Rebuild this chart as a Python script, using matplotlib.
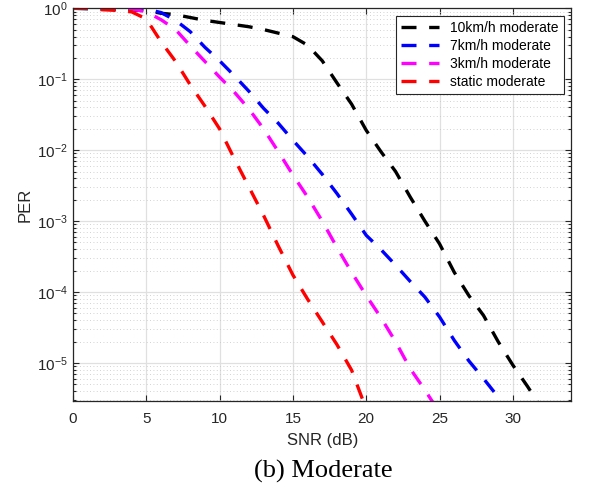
import numpy as np
import matplotlib.pyplot as plt
from matplotlib.ticker import LogLocator, NullFormatter

# values (log10 of PER)
snr_10kmh = [0, 5, 6, 7, 8, 9, 10, 11, 12, 13, 14, 15, 16, 17, 18, 19, 20, 21, 22, 23, 24, 25,
             26, 27, 28, 29, 30, 31, 32]
logper_10kmh = [0, -0.03, -0.07, -0.09, -0.13, -0.17, -0.2, -0.23, -0.26, -0.3, -0.35, -0.4,
                -0.52, -0.74, -1.05, -1.35, -1.72, -2.02, -2.3, -2.66, -3.0, -3.32, -3.72,
                -4.05, -4.33, -4.7, -5.03, -5.33, -5.65]

snr_7kmh = [0, 5, 6, 7, 8, 9, 10, 11, 12, 13, 14, 15, 16, 17, 18, 19, 20, 21, 22, 23, 24, 25, 26,
            27, 28, 29]
logper_7kmh = [0, -0.01, -0.06, -0.17, -0.33, -0.55, -0.74, -0.95, -1.17, -1.41, -1.62, -1.86,
               -2.09, -2.34, -2.61, -2.9, -3.2, -3.4, -3.62, -3.85, -4.07, -4.35, -4.68, -4.97,
               -5.22, -5.48]

snr_3kmh = [0, 3, 4, 5, 6, 7, 8, 9, 10, 11, 12, 13, 14, 15, 16, 17, 18, 19, 20, 21, 22, 23, 24, 25]
logper_3kmh = [0, 0, -0.01, -0.05, -0.16, -0.3, -0.53, -0.75, -0.97, -1.18, -1.42, -1.7, -2.02,
               -2.35, -2.66, -3.0, -3.37, -3.72, -4.05, -4.36, -4.7, -5.08, -5.38, -5.7]

snr_static = [0, 1, 2, 3, 4, 5, 6, 7, 8, 9, 10, 11, 12, 13, 14, 15, 16, 17, 18, 19, 20]
logper_static = [0, 0, -0.02, -0.03, -0.05, -0.15, -0.47, -0.75, -1.08, -1.38, -1.7, -2.12,
                 -2.52, -2.92, -3.35, -3.76, -4.1, -4.42, -4.74, -5.1, -5.65]

labels = ['10km/h moderate', '7km/h moderate', '3km/h moderate', 'static moderate']
colors = ['black', 'blue', 'magenta', 'red']

plt.rcParams['font.family'] = ['Liberation Sans', 'DejaVu Sans']

fig = plt.figure(figsize=(5.91, 4.88), dpi=100)
ax = fig.add_axes([0.1235, 0.178, 0.8435, 0.805])

series = [(snr_10kmh, logper_10kmh), (snr_7kmh, logper_7kmh),
          (snr_3kmh, logper_3kmh), (snr_static, logper_static)]
for (x, ly), lab, c in zip(series, labels, colors):
    ax.semilogy(x, 10.0 ** np.array(ly), color=c, lw=2.4, dashes=(4.5, 3.8), label=lab)

ax.set_xlim(0, 34)
ax.set_ylim(2.9e-6, 1)
ax.set_xticks([0, 5, 10, 15, 20, 25, 30])
ax.yaxis.set_major_locator(LogLocator(base=10, numticks=10))
ax.yaxis.set_minor_locator(LogLocator(base=10, subs=np.arange(2, 10), numticks=20))
ax.yaxis.set_minor_formatter(NullFormatter())

ax.grid(True, which='major', color='#e0e0e0', lw=0.9)
ax.grid(True, which='minor', axis='y', color='#c4c4c4', lw=0.6, ls=(0, (1, 3)))
ax.set_axisbelow(True)

ax.tick_params(which='both', direction='in', top=True, right=True, colors='#262626',
               labelsize=11, width=0.8)
ax.tick_params(which='major', length=4)
ax.tick_params(which='minor', length=2.5)
ax.tick_params(axis='x', pad=8)
ax.tick_params(axis='y', pad=4)
for s in ax.spines.values():
    s.set_color('#262626')
    s.set_linewidth(0.9)

ax.set_xlabel('SNR (dB)', fontsize=12, color='#262626', labelpad=5)
ax.set_ylabel('PER', fontsize=12, color='#262626', labelpad=3)

leg = ax.legend(loc='upper right', fontsize=10, frameon=True, fancybox=False,
                edgecolor='#262626', framealpha=1, handlelength=2.7, handletextpad=0.85,
                borderpad=0.35, labelspacing=0.3, borderaxespad=0.55)
leg.get_frame().set_linewidth(0.8)

fig.text(0.547, 0.021, '(b) Moderate', ha='center', va='baseline',
         fontsize=19, family=['Liberation Serif', 'DejaVu Serif'])

fig.savefig('out.png', dpi=100)
